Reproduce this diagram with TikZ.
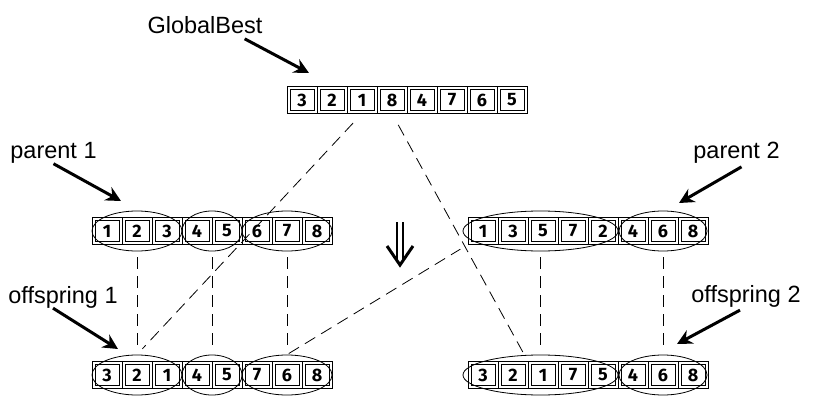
\documentclass[tikz,border=0pt]{standalone}
\usepackage{fontspec}
\setmainfont{Liberation Sans}
\newfontfamily\cellfont{Fira Sans}
\usetikzlibrary{arrows.meta,positioning,shapes.geometric,calc}
\tikzset{
    genecell/.style={draw, line width=0.8pt, minimum width=30pt, minimum height=27pt, inner sep=0pt, outer sep=0pt,
        font=\cellfont\bfseries\fontsize{18}{18}\selectfont,
        path picture={\draw[line width=0.8pt] ([xshift=3pt, yshift=3pt]path picture bounding box.south west) rectangle ([xshift=-3pt, yshift=-3pt]path picture bounding box.north east);}},
    groupring/.style={ellipse, draw, line width=0.8pt, inner sep=0pt, minimum height=40pt},
    crossdash/.style={line width=0.8pt, dash pattern=on 12pt off 7pt},
    tagtext/.style={font=\fontsize{23.5}{28}\selectfont, inner sep=0pt},
    tagarrow/.style={-{Stealth[length=15pt, width=15pt, inset=5pt]}, line width=3pt}
}

\begin{document}
\begin{tikzpicture}[x=1pt, y=-1pt]
        \useasboundingbox (0,0) rectangle (822,420);

        % chromosomes
        \foreach \v [count=\i] in {3,2,1,8,4,7,6,5}
            \node[genecell] (gb\i) at ({272+30*\i},100) {\v};
        \foreach \v [count=\i] in {1,2,3,4,5,6,7,8}
            \node[genecell] (pa\i) at ({77+30*\i},231) {\v};
        \foreach \v [count=\i] in {1,3,5,7,2,4,6,8}
            \node[genecell] (pb\i) at ({453+30*\i},231) {\v};
        \foreach \v [count=\i] in {3,2,1,4,5,7,6,8}
            \node[genecell] (oa\i) at ({77+30*\i},375) {\v};
        \foreach \v [count=\i] in {3,2,1,7,5,4,6,8}
            \node[genecell] (ob\i) at ({453+30*\i},375) {\v};

        % groups
        \node[groupring, minimum width=90pt] (pa-ring1) at (pa2) {};
        \node[groupring, minimum width=60pt] (pa-ring2) at ($(pa4)!0.5!(pa5)$) {};
        \node[groupring, minimum width=90pt] (pa-ring3) at (pa7) {};
        \node[groupring, minimum width=155pt] (pb-ring1) at ($(pb3)+(-2.5,0)$) {};
        \node[groupring, minimum width=88pt] (pb-ring2) at (pb7) {};
        \node[groupring, minimum width=90pt] (oa-ring1) at (oa2) {};
        \node[groupring, minimum width=60pt] (oa-ring2) at ($(oa4)!0.5!(oa5)$) {};
        \node[groupring, minimum width=90pt] (oa-ring3) at (oa7) {};
        \node[groupring, minimum width=155pt] (ob-ring1) at ($(ob3)+(-2.5,0)$) {};
        \node[groupring, minimum width=88pt] (ob-ring2) at (ob7) {};

        \draw[crossdash, shorten <=6pt, shorten >=6pt] (pa-ring1) -- (oa-ring1);
        \draw[crossdash, shorten <=6pt, shorten >=6pt] (pa-ring2) -- (oa-ring2);
        \draw[crossdash, shorten <=6pt, shorten >=6pt] (pa-ring3) -- (oa-ring3);
        \draw[crossdash, shorten <=6pt, shorten >=6pt] (pb-ring1) -- (ob-ring1);
        \draw[crossdash, shorten <=6pt, shorten >=6pt] (pb-ring2) -- (ob-ring2);
        \draw[crossdash, shorten <=13pt, shorten >=8pt] (gb3.south) -- (oa-ring1.north);
        \draw[crossdash, shorten <=13pt, shorten >=8pt] (gb4.south) -- (ob2.north east);
        \draw[crossdash, shorten <=2pt, shorten >=9pt] (oa-ring3.north) -- (pb1.south west);

        % swap arrow
        \coordinate (swap-top) at (400,222);
        \coordinate (swap-tip) at (400,265);
        \draw[line width=1.6pt, double, double distance=4pt, shorten >=4pt] (swap-top) -- (swap-tip);
        \draw[line width=3pt, line join=miter] ($(swap-tip)+(-13,-19)$) -- (swap-tip) -- ($(swap-tip)+(13,-19)$);

        % labels
        \node[tagtext] (gb-tag) at (205,25) {GlobalBest};
        \node[tagtext] (pa-tag) at (53.5,153) {parent 1};
        \node[tagtext] (pb-tag) at (736.5,153) {parent 2};
        \node[tagtext] (oa-tag) at (63,297) {offspring 1};
        \node[tagtext] (ob-tag) at (746,296) {offspring 2};
        \coordinate (gb-tip) at (309,73);
        \coordinate (pa-tip) at (121,201);
        \coordinate (pb-tip) at (679,203);
        \coordinate (oa-tip) at (118,349);
        \coordinate (ob-tip) at (677,344);
        \draw[tagarrow] ([xshift=-18pt, yshift=-5pt]gb-tag.south east) -- (gb-tip);
        \draw[tagarrow] (pa-tag.south) -- (pa-tip);
        \draw[tagarrow] ([xshift=5pt, yshift=-3pt]pb-tag.south) -- (pb-tip);
        \draw[tagarrow] ([xshift=-10pt]oa-tag.south) -- (oa-tip);
        \draw[tagarrow] ([xshift=-6pt, yshift=-3pt]ob-tag.south) -- (ob-tip);
    \end{tikzpicture}
\end{document}
